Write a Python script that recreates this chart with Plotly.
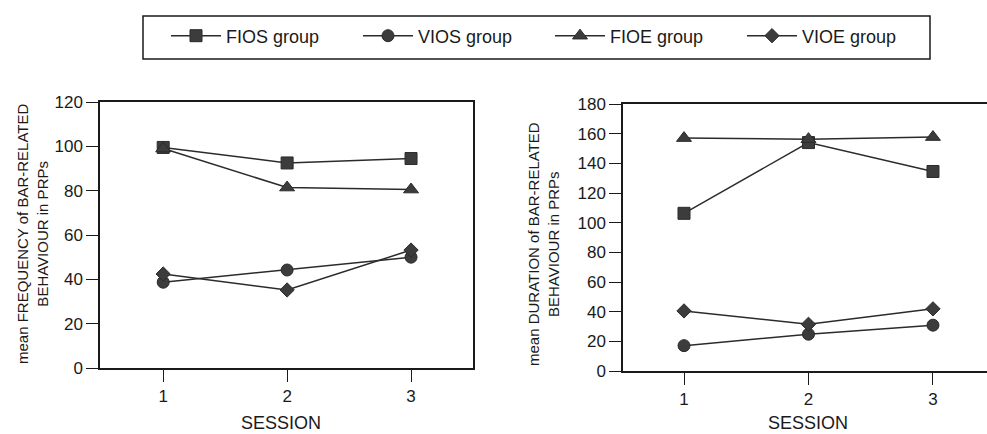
import plotly.graph_objects as go

sessions = [1, 2, 3]
groups = ["FIOS group", "VIOS group", "FIOE group", "VIOE group"]
symbols = ["square", "circle", "triangle-up", "diamond"]
msizes = [12, 12, 13, 11]

freq_fios = [99.5, 92.5, 94.5]
freq_vios = [38.7, 44.2, 50.0]
freq_fioe = [99.0, 81.4, 80.5]
freq_vioe = [42.4, 35.2, 53.2]

dur_fios = [106.3, 154.0, 134.5]
dur_vios = [17.1, 24.8, 30.9]
dur_fioe = [157.0, 156.3, 157.7]
dur_vioe = [40.5, 31.5, 41.9]

freq_series = [freq_fios, freq_vios, freq_fioe, freq_vioe]
dur_series = [dur_fios, dur_vios, dur_fioe, dur_vioe]

LINE = "#2b2b2b"
FILL = "#3c3c3c"
FONT = "Liberation Sans, Arial, sans-serif"

fig = go.Figure()
for i, g in enumerate(groups):
    fig.add_trace(go.Scatter(
        x=sessions, y=freq_series[i], name=g, mode="lines+markers",
        line=dict(color=LINE, width=1.5),
        marker=dict(symbol=symbols[i], size=msizes[i], color=FILL,
                    line=dict(color=LINE, width=1)),
        xaxis="x", yaxis="y", showlegend=True))
for i, g in enumerate(groups):
    fig.add_trace(go.Scatter(
        x=sessions, y=dur_series[i], name=g, mode="lines+markers",
        line=dict(color=LINE, width=1.5),
        marker=dict(symbol=symbols[i], size=msizes[i], color=FILL,
                    line=dict(color=LINE, width=1)),
        xaxis="x2", yaxis="y2", showlegend=False))

W, H = 987, 434
def px(x):
    return x / W
def py(y):
    return (H - y) / H

axis_common = dict(showgrid=False, zeroline=False, showline=True, linecolor="#1a1a1a",
                   linewidth=1.5, ticks="outside", ticklen=12, tickwidth=1.2,
                   tickcolor="#1a1a1a", automargin=False,
                   tickfont=dict(family=FONT, size=17, color="#1a1a1a"))

fig.update_layout(
    template="none",
    width=W, height=H,
    margin=dict(l=0, r=0, t=0, b=0, pad=0, autoexpand=False),
    paper_bgcolor="white", plot_bgcolor="white",
    font=dict(family=FONT, color="#1a1a1a"),
    xaxis=dict(domain=[px(100), px(473)], range=[0.49, 3.5], tickvals=sessions,
               ticktext=["1", "2", "3"], mirror=True, anchor="y", **axis_common),
    yaxis=dict(domain=[py(368), py(102)], range=[0, 120], tickvals=[0, 20, 40, 60, 80, 100, 120],
               mirror=True, anchor="x", **axis_common),
    xaxis2=dict(domain=[px(623), 1.0], range=[0.51, 3.434], tickvals=sessions,
                ticktext=["1", "2", "3"], mirror=True, anchor="y2", **axis_common),
    yaxis2=dict(domain=[py(371), py(104)], range=[0, 180],
                tickvals=[0, 20, 40, 60, 80, 100, 120, 140, 160, 180],
                mirror=False, anchor="x2", **axis_common),
    legend=dict(orientation="h", x=px(166), y=py(36), xanchor="left", yanchor="middle",
                font=dict(family=FONT, size=18, color="#1a1a1a"),
                bgcolor="rgba(0,0,0,0)", borderwidth=0, itemwidth=50,
                entrywidth=127, entrywidthmode="pixels", tracegroupgap=0),
    shapes=[dict(type="rect", xref="paper", yref="paper",
                 x0=px(143), x1=px(930), y0=py(59), y1=py(16),
                 line=dict(color="#1a1a1a", width=1.5))],
    annotations=[
        dict(text="mean FREQUENCY of BAR-RELATED<br>BEHAVIOUR in PRPs", textangle=-90,
             xref="paper", yref="paper", x=px(32), y=py(234), showarrow=False,
             xanchor="center", yanchor="middle", font=dict(family=FONT, size=15)),
        dict(text="mean DURATION of BAR-RELATED<br>BEHAVIOUR in PRPs", textangle=-90,
             xref="paper", yref="paper", x=px(543), y=py(244), showarrow=False,
             xanchor="center", yanchor="middle", font=dict(family=FONT, size=15)),
        dict(text="SESSION", xref="paper", yref="paper", x=px(281), y=py(423),
             showarrow=False, xanchor="center", yanchor="middle",
             font=dict(family=FONT, size=18)),
        dict(text="SESSION", xref="paper", yref="paper", x=px(808), y=py(423),
             showarrow=False, xanchor="center", yanchor="middle",
             font=dict(family=FONT, size=18)),
    ],
)

fig.write_html("out.html")
